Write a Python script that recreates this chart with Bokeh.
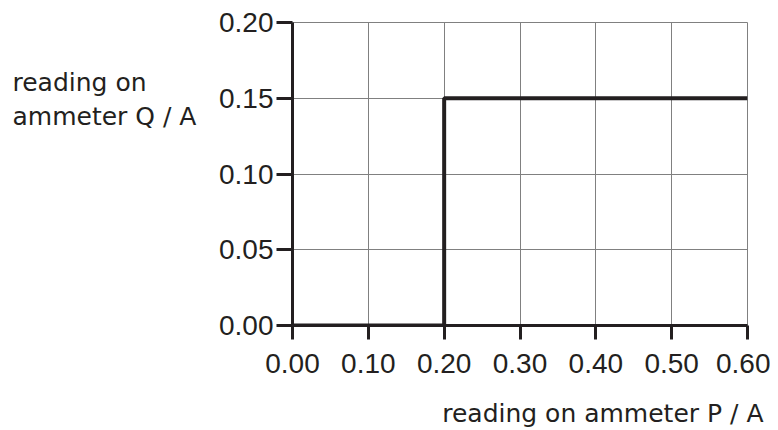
from bokeh.plotting import figure
from bokeh.models import Range1d, FixedTicker, CustomJSTickFormatter, Title
from bokeh.layouts import row
from bokeh.core.properties import value
from bokeh.embed import file_html
from bokeh.resources import INLINE

# data
p_current = [0.0, 0.20, 0.20, 0.60]
q_current = [0.0, 0.0, 0.15, 0.15]
x_ticks = [0.0, 0.1, 0.2, 0.3, 0.4, 0.5, 0.6]
y_ticks = [0.0, 0.05, 0.10, 0.15, 0.20]
x_title = "reading on ammeter P / A"
y_title_lines = ["reading on", "ammeter Q / A"]

INK = "#231f20"
FONT = "Liberation Sans"
TFONT = "DejaVu Sans"

W, H = 770, 430          # whole picture
LW = 205                 # width of the left title strip
L, R, T, B = 292, 747, 22, 325  # frame edges in page pixels
BASE_FIX = -9            # renderer places alphabetic baseline a little low

# left strip with the y title (same vertical borders as the chart, page-pixel coordinates)
left = figure(width=LW, height=H, output_backend="svg", toolbar_location=None,
              x_range=Range1d(0, LW), y_range=Range1d(B, T),
              x_axis_location=None, y_axis_location=None,
              min_border_left=0, min_border_right=0, min_border_top=T, min_border_bottom=H - B)
left.outline_line_color = None
left.grid.visible = False
left.text(x=[12] * len(y_title_lines),
          y=[91 + 34 * i + BASE_FIX for i in range(len(y_title_lines))],
          text=y_title_lines, text_font=value(TFONT), text_font_size=value("25px"),
          text_color=INK, text_align="left", text_baseline="alphabetic")

# main chart
MW = W - LW
p = figure(width=MW, height=H, output_backend="svg", toolbar_location=None,
           x_range=Range1d(0, 0.6), y_range=Range1d(0, 0.2),
           min_border_left=L - LW, min_border_right=W - R, min_border_top=T,
           min_border_bottom=H - B)
p.outline_line_color = "#808080"
p.outline_line_width = 1

for ax in (p.xaxis[0], p.yaxis[0]):
    ax.axis_line_width = 3
    ax.axis_line_color = INK
    ax.major_tick_line_width = 3
    ax.major_tick_line_color = INK
    ax.minor_tick_line_color = None
    ax.major_label_text_font = FONT
    ax.major_label_text_font_size = "28px"
    ax.major_label_text_color = INK
    ax.formatter = CustomJSTickFormatter(code="return tick.toFixed(2);")

p.xaxis[0].ticker = FixedTicker(ticks=x_ticks)
p.yaxis[0].ticker = FixedTicker(ticks=y_ticks)
p.xaxis[0].major_tick_in = 0
p.xaxis[0].major_tick_out = 14
p.yaxis[0].major_tick_in = 0
p.yaxis[0].major_tick_out = 16
p.xaxis[0].major_label_standoff = 14
p.yaxis[0].major_label_standoff = 3

p.xgrid.ticker = FixedTicker(ticks=x_ticks)
p.ygrid.ticker = FixedTicker(ticks=y_ticks)
p.grid.grid_line_color = "#808080"
p.grid.grid_line_width = 1
p.grid.grid_line_alpha = 1

p.line(p_current, q_current, line_width=4, line_color=INK)

# spacer panel, then the x title under the axis, right end beyond the frame
p.add_layout(Title(text=" ", text_font_size="1px", standoff=18), "below")
p.add_layout(Title(text=x_title, align="right", offset=-(763 - R), vertical_align="bottom",
                   standoff=0, text_font=TFONT, text_font_size="25px",
                   text_font_style="normal", text_color=INK), "below")

layout = row(left, p, spacing=0)
open("out.html", "w").write(file_html(layout, INLINE))
